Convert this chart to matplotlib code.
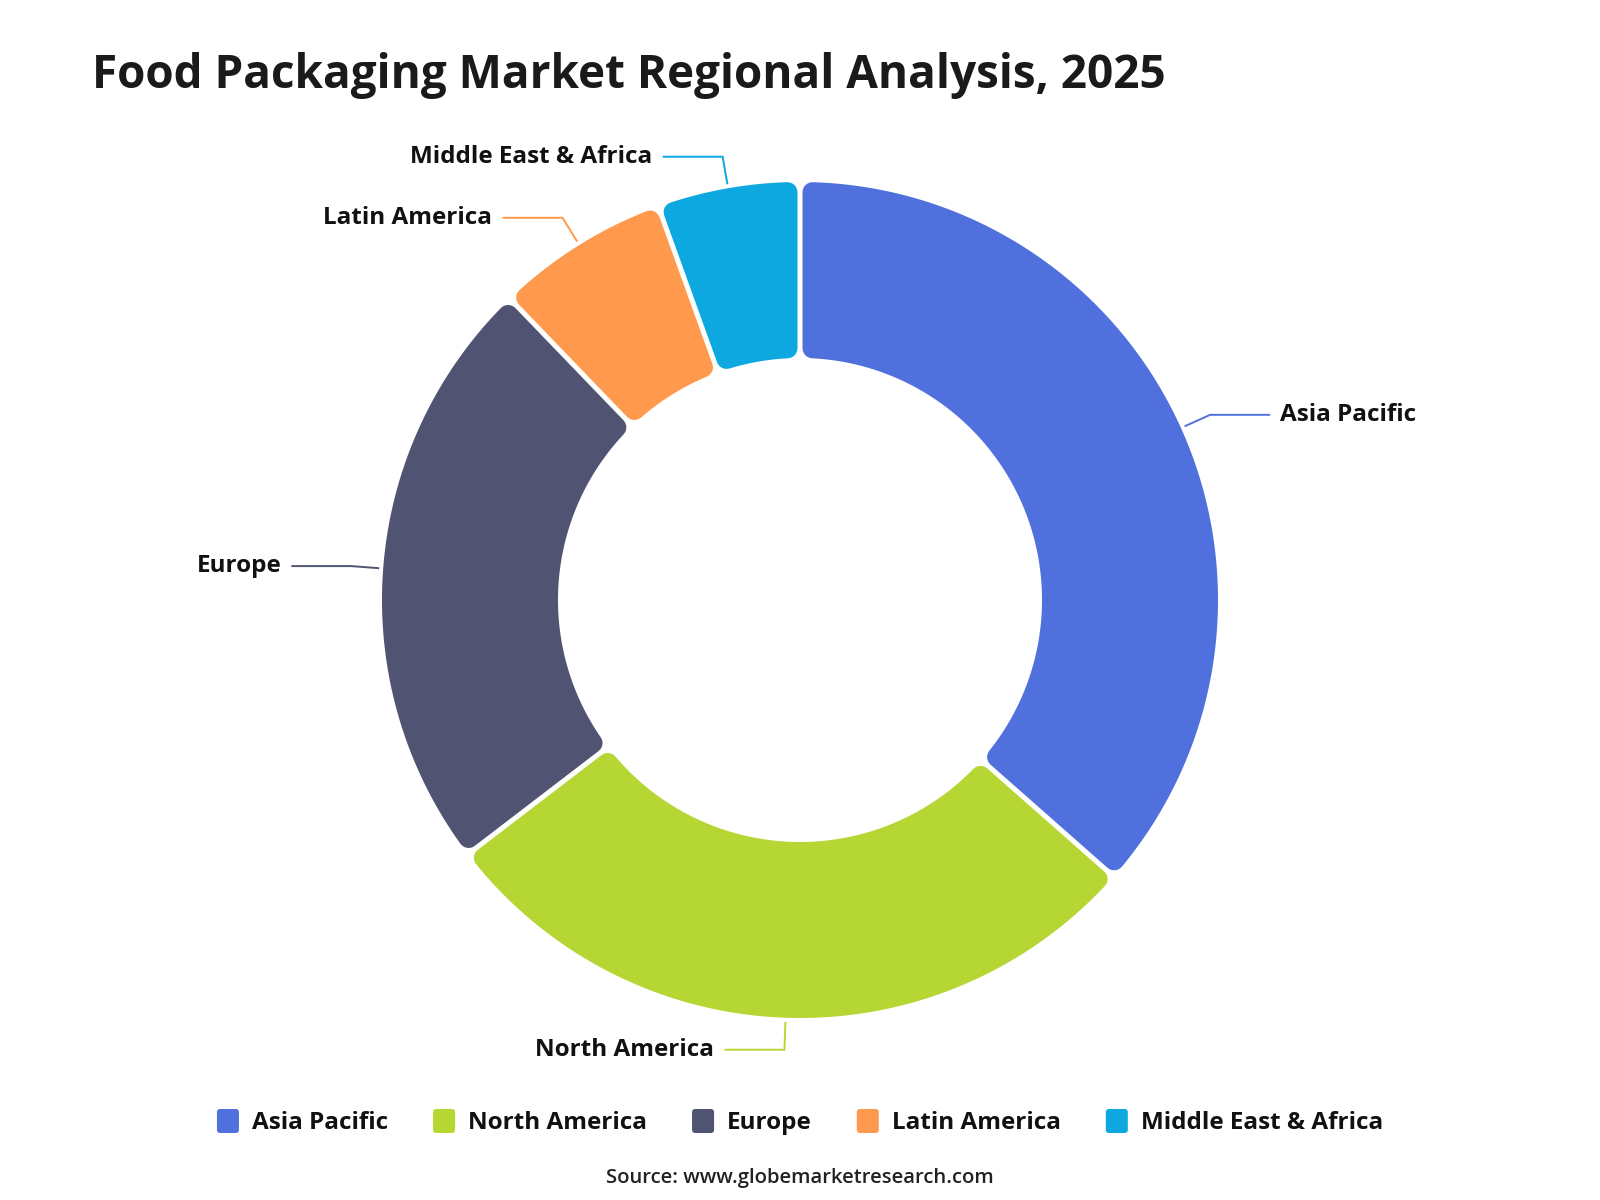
import numpy as np
import matplotlib.pyplot as plt
from matplotlib.patches import Polygon, FancyBboxPatch

plt.rcParams['font.family'] = ['Open Sans', 'DejaVu Sans']

regions = ["Asia Pacific", "North America", "Europe", "Latin America", "Middle East & Africa"]
shares = [36.5, 28.1, 23.2, 6.7, 5.5]
colors = ["#5070dd", "#b6d634", "#505372", "#ff994d", "#0ca8df"]

title = "Food Packaging Market Regional Analysis, 2025"
source = "Source: www.globemarketresearch.com"

W, H, DPI = 1600, 1200, 100
PT = 72 / DPI  # points per pixel

fig = plt.figure(figsize=(W / DPI, H / DPI), dpi=DPI)
ax = fig.add_axes([0, 0, 1, 1])
ax.set_xlim(0, W)
ax.set_ylim(H, 0)
ax.axis('off')

# donut geometry (pixels)
cx, cy = 800, 600
R_out, R_in = 418, 242
corner = 10
half_gap = 2.5


def pt(theta, rho):
    # theta: clockwise from 12 o'clock, radians
    return cx + rho * np.sin(theta), cy - rho * np.cos(theta)


def rounded_wedge(a1, a2):
    g = half_gap + corner
    ro, ri = R_out - corner, R_in + corner
    o1, o2 = a1 + np.arcsin(g / ro), a2 - np.arcsin(g / ro)
    i1, i2 = a1 + np.arcsin(g / ri), a2 - np.arcsin(g / ri)
    to = np.linspace(o1, o2, 200)
    ti = np.linspace(i2, i1, 200)
    xs = np.concatenate([cx + ro * np.sin(to), cx + ri * np.sin(ti)])
    ys = np.concatenate([cy - ro * np.cos(to), cy - ri * np.cos(ti)])
    return np.column_stack([xs, ys])


total = sum(shares)
edges = np.concatenate([[0], np.cumsum(shares)]) / total * 2 * np.pi

label_fs = 17.5
for name, a1, a2, col in zip(regions, edges[:-1], edges[1:], colors):
    poly = Polygon(rounded_wedge(a1, a2), closed=True, facecolor=col,
                   edgecolor=col, linewidth=2 * corner * PT, joinstyle='round')
    ax.add_patch(poly)

    mid = (a1 + a2) / 2
    x0, y0 = pt(mid, R_out + 5)
    x1, y1 = pt(mid, R_out + 32)
    side = 1 if np.sin(mid) > 0 else -1
    x2 = x1 + side * 59
    ax.plot([x0, x1, x2], [y0, y1, y1], color=col, lw=1.4, solid_joinstyle='miter')
    ax.text(x2 + side * 11, y1 - 3, name, ha='left' if side > 0 else 'right',
            va='center_baseline', fontsize=label_fs, fontweight='bold', color='#111111')

# title and source
ax.text(92, 88, title, ha='left', va='baseline', fontsize=33,
        fontweight='bold', color='#1a1a1a')
ax.text(800, 1176, source, ha='center', va='center_baseline', fontsize=14.6,
        fontweight='semibold', color='#222222')

# legend row
fig.canvas.draw()
renderer = fig.canvas.get_renderer()
icon_w, icon_h, icon_gap, item_gap = 22, 24, 13, 45
leg_y = 1121
widths = []
for name in regions:
    t = ax.text(0, 0, name, fontsize=label_fs, fontweight='bold')
    widths.append(t.get_window_extent(renderer).width)
    t.remove()
total_w = sum(icon_w + icon_gap + w for w in widths) + item_gap * (len(regions) - 1)
x = 800 - total_w / 2
for name, col, w in zip(regions, colors, widths):
    ax.add_patch(FancyBboxPatch((x + 3, leg_y - icon_h / 2 + 3), icon_w - 6, icon_h - 6,
                                boxstyle="round,pad=3", facecolor=col, edgecolor='none'))
    ax.text(x + icon_w + icon_gap, leg_y - 1, name, ha='left', va='center_baseline',
            fontsize=label_fs, fontweight='bold', color='#111111')
    x += icon_w + icon_gap + w + item_gap

fig.savefig("out.png", dpi=DPI, facecolor='white')
